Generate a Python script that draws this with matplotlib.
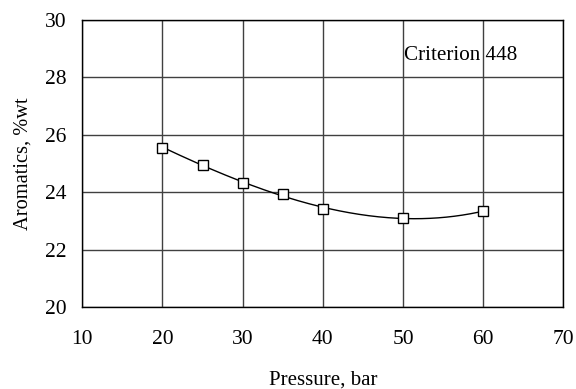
import numpy as np
import matplotlib
matplotlib.use("Agg")
import matplotlib.pyplot as plt

# data
pressure = [20, 25, 30, 35, 40, 50, 60]
aromatics = [25.56, 24.97, 24.33, 23.93, 23.42, 23.12, 23.34]
x_ticks = [10, 20, 30, 40, 50, 60, 70]
y_ticks = [20, 22, 24, 26, 28, 30]

plt.rcParams['font.family'] = ['Liberation Serif', 'DejaVu Serif']

fig = plt.figure(figsize=(5.76, 3.89), dpi=100)
ax = fig.add_axes([0.1429, 0.210, 0.8352, 0.7386])

# polynomial trend line through the points
coef = np.polyfit(pressure, aromatics, 3)
sx = np.linspace(min(pressure), max(pressure), 200)
sy = np.polyval(coef, sx)
ax.plot(sx, sy, color='black', lw=1.0, zorder=3)
ax.plot(pressure, aromatics, ls='none', marker='s', ms=6.5, mfc='white',
        mec='black', mew=1.0, zorder=4)

ax.set_xlim(10, 70)
ax.set_ylim(20, 30)
ax.set_xticks(x_ticks)
ax.set_yticks(y_ticks)
ax.grid(True, color='#404040', lw=1.0)
ax.set_axisbelow(True)
ax.tick_params(length=0, labelsize=15.5)
ax.tick_params(axis='x', pad=16.5)
ax.tick_params(axis='y', pad=11.3)
for s in ax.spines.values():
    s.set_color('black')
    s.set_linewidth(1.0)

ax.set_xlabel('Pressure, bar', fontsize=15, labelpad=15)
ax.set_ylabel('Aromatics, %wt', fontsize=14.7, labelpad=9)

ax.text(50.1, 28.78, 'Criterion 448', fontsize=15.2, ha='left', va='center')

fig.savefig('out.png', dpi=100)
